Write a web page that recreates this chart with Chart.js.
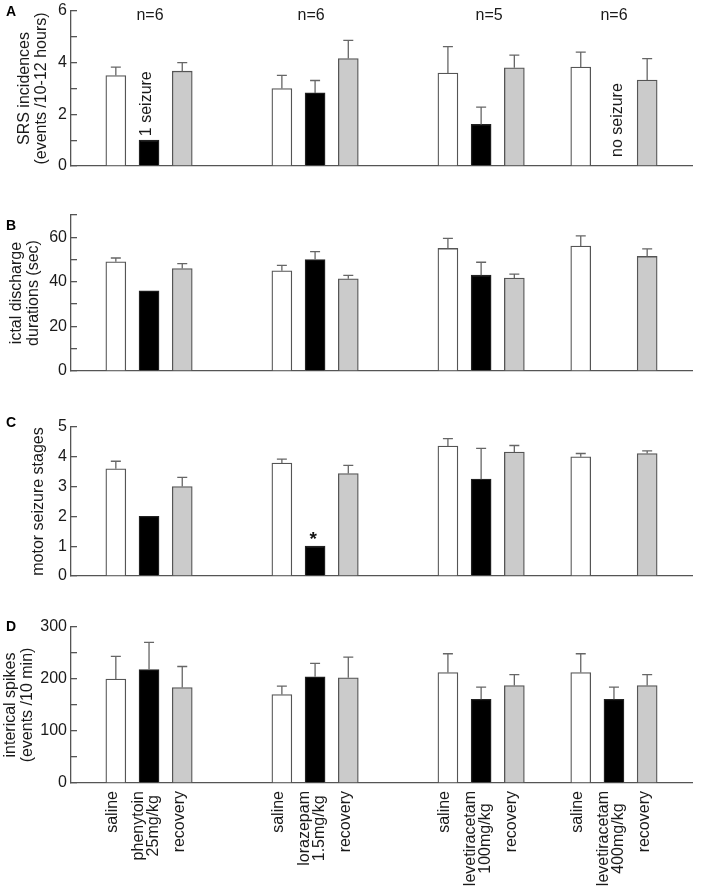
<!DOCTYPE html>
<html><head><meta charset="utf-8">
<script src="https://cdn.jsdelivr.net/npm/chart.js@4.4.1/dist/chart.umd.min.js"></script>
<style>
html,body{margin:0;padding:0;background:#fff;}
body{width:703px;height:895px;position:relative;overflow:hidden;}
canvas{position:absolute;left:0;}
</style></head><body>
<canvas id="cA" width="703" height="180" style="top:0px;width:703px;height:180px"></canvas>
<canvas id="cB" width="703" height="192" style="top:190px;width:703px;height:192px"></canvas>
<canvas id="cC" width="703" height="192" style="top:395px;width:703px;height:192px"></canvas>
<canvas id="cD" width="703" height="295" style="top:600px;width:703px;height:295px"></canvas>
<script>
// ---------- data ----------
const categories = [
  'saline', ['phenytoin', '25mg/kg'], 'recovery',
  'saline', ['lorazepam', '1.5mg/kg'], 'recovery',
  'saline', ['levetiracetam', '100mg/kg'], 'recovery',
  'saline', ['levetiracetam', '400mg/kg'], 'recovery'
];
const nLabels = ['n=6', 'n=6', 'n=5', 'n=6'];

// A: SRS incidences (events /10-12 hours)
const srsSaline      = [3.5, 3.0, 3.6, 3.83];
const srsSalineErr   = [0.33, 0.51, 1.02, 0.58];
const srsDrug        = [1.0, 2.83, 1.61, null];
const srsDrugErr     = [0, 0.48, 0.67, null];
const srsRecovery    = [3.67, 4.16, 3.8, 3.33];
const srsRecoveryErr = [0.33, 0.7, 0.49, 0.83];
const srsTickLabels  = [0, 2, 4, 6];

// B: ictal discharge durations (sec)
const ictSaline      = [49, 45, 55, 56.1];
const ictSalineErr   = [1.7, 2.4, 4.5, 4.5];
const ictDrug        = [36, 50, 43, null];
const ictDrugErr     = [0, 3.6, 5.8, null];
const ictRecovery    = [46, 41.4, 41.7, 51.4];
const ictRecoveryErr = [2.2, 1.5, 1.8, 3.4];
const ictTickLabels  = [0, 20, 40, 60];

// C: motor seizure stages
const motSaline      = [3.6, 3.79, 4.36, 4.0];
const motSalineErr   = [0.25, 0.13, 0.25, 0.11];
const motDrug        = [2.0, 1.0, 3.25, null];
const motDrugErr     = [0, 0, 1.03, null];
const motRecovery    = [3.0, 3.44, 4.16, 4.11];
const motRecoveryErr = [0.31, 0.27, 0.22, 0.09];
const motTickLabels  = [0, 1, 2, 3, 4, 5];

// D: interical spikes (events /10 min)
const spkSaline      = [200, 170, 212.5, 212.5];
const spkSalineErr   = [43.4, 16.2, 36.1, 36.1];
const spkDrug        = [218.3, 204.2, 161, 161];
const spkDrugErr     = [52.1, 25.7, 23.3, 23.3];
const spkRecovery    = [183.5, 202.2, 187.4, 187.4];
const spkRecoveryErr = [40.5, 40, 21.2, 21.2];
const spkTickLabels  = [0, 100, 200, 300];

// ---------- layout helpers ----------
const FONT = "'Liberation Sans', Arial, Helvetica, sans-serif";
Chart.defaults.font.family = FONT;
Chart.defaults.font.size = 16;
Chart.defaults.color = '#1a1a1a';

const groupStart = [0, 5, 10, 14];
const slotOf = (g, k) => groupStart[g] + k;

function barSet(vals, errs, k, fill, border) {
  const data = [], errors = [];
  vals.forEach((v, g) => {
    if (v != null) { data.push({x: slotOf(g, k), y: v}); errors.push(errs[g] || 0); }
  });
  return {data, errors, backgroundColor: fill, borderColor: border, borderWidth: 1.3,
          grouped: false, barThickness: 20};
}

const errorBarPlugin = {
  id: 'errbars',
  afterDatasetsDraw(chart) {
    const {ctx, scales: {x, y}} = chart;
    ctx.save();
    ctx.strokeStyle = '#666'; ctx.lineWidth = 1.3;
    chart.data.datasets.forEach(ds => {
      ds.data.forEach((p, i) => {
        const e = ds.errors[i];
        if (!e) return;
        const px = x.getPixelForValue(p.x);
        const y1 = y.getPixelForValue(p.y), y2 = y.getPixelForValue(p.y + e);
        ctx.beginPath();
        ctx.moveTo(px, y1); ctx.lineTo(px, y2);
        ctx.moveTo(px - 5, y2); ctx.lineTo(px + 5, y2);
        ctx.stroke();
      });
    });
    ctx.restore();
  }
};

function rotText(ctx, t, x, y, align) {
  ctx.save();
  ctx.translate(x, y); ctx.rotate(-Math.PI / 2);
  ctx.textAlign = align || 'left'; ctx.textBaseline = 'middle';
  ctx.fillText(t, 0, 0);
  ctx.restore();
}

function letter(ctx, t, yBase) {
  ctx.save();
  ctx.fillStyle = '#000';
  ctx.font = 'bold 14px ' + FONT;
  ctx.textAlign = 'left'; ctx.textBaseline = 'alphabetic';
  ctx.fillText(t, 6, yBase);
  ctx.restore();
}

function makePanel(id, cfg) {
  return new Chart(document.getElementById(id), {
    type: 'bar',
    data: {datasets: [
      barSet(cfg.saline, cfg.salineErr, 0, '#ffffff', '#555555'),
      barSet(cfg.drug, cfg.drugErr, 1, '#000000', '#222222'),
      barSet(cfg.recovery, cfg.recoveryErr, 2, '#cbcbcb', '#555555')
    ]},
    options: {
      responsive: false, animation: false, events: [],
      layout: {padding: {top: cfg.padTop, bottom: cfg.padBottom, left: 0, right: 11}},
      plugins: {legend: {display: false}, tooltip: {enabled: false}},
      scales: {
        x: {
          type: 'linear', min: -1.35, max: 17.35, offset: false, bounds: 'data',
          ticks: {display: false}, grid: {display: false, offset: false},
          border: {display: true, color: '#555', width: 1.3},
          afterFit: s => { s.height = cfg.xHeight; s.paddingLeft = 0; s.paddingRight = 0; }
        },
        y: {
          min: 0, max: cfg.max,
          ticks: {stepSize: cfg.step, padding: 10, autoSkip: false, color: '#1a1a1a',
                  font: {size: 16},
                  callback: v => cfg.labels.includes(v) ? String(v) : ''},
          grid: {display: true, drawOnChartArea: false, drawTicks: true, tickLength: -6,
                 color: '#555', lineWidth: 1.3},
          border: {display: true, color: '#555', width: 1.3},
          title: {display: true, text: cfg.title, color: '#1a1a1a',
                  font: {size: 16, lineHeight: 1.06}, padding: {top: cfg.titlePad, bottom: 0}},
          afterFit: s => { s.width = 71; s.paddingTop = 0; s.paddingBottom = 0; }
        }
      }
    },
    plugins: [errorBarPlugin, {id: 'ann', afterDraw: chart => cfg.draw(chart)}]
  });
}

// ---------- panels ----------
const nShift = [1, -4, 8, 0];

makePanel('cA', {
  saline: srsSaline, salineErr: srsSalineErr, drug: srsDrug, drugErr: srsDrugErr,
  recovery: srsRecovery, recoveryErr: srsRecoveryErr,
  max: 6, step: 1, labels: srsTickLabels,
  title: ['SRS incidences', '(events /10-12 hours)'], titlePad: 16,
  padTop: 11, padBottom: 14, xHeight: 0,
  draw(chart) {
    const {ctx, scales: {x, y}} = chart;
    letter(ctx, 'A', 16);
    ctx.save();
    ctx.fillStyle = '#1a1a1a'; ctx.font = '16px ' + FONT;
    ctx.textAlign = 'center'; ctx.textBaseline = 'alphabetic';
    nLabels.forEach((t, g) => ctx.fillText(t, x.getPixelForValue(slotOf(g, 1)) + nShift[g], 20));
    rotText(ctx, '1 seizure', x.getPixelForValue(slotOf(0, 1)) - 2, y.getPixelForValue(srsDrug[0]) - 4);
    rotText(ctx, 'no seizure', x.getPixelForValue(slotOf(3, 1)) + 4, y.getPixelForValue(0) - 9);
    ctx.restore();
  }
});

makePanel('cB', {
  saline: ictSaline, salineErr: ictSalineErr, drug: ictDrug, drugErr: ictDrugErr,
  recovery: ictRecovery, recoveryErr: ictRecoveryErr,
  max: 70, step: 10, labels: ictTickLabels,
  title: ['ictal discharge', 'durations (sec)'], titlePad: 8,
  padTop: 25, padBottom: 11, xHeight: 0,
  draw(chart) { letter(chart.ctx, 'B', 40); }
});

makePanel('cC', {
  saline: motSaline, salineErr: motSalineErr, drug: motDrug, drugErr: motDrugErr,
  recovery: motRecovery, recoveryErr: motRecoveryErr,
  max: 5, step: 1, labels: motTickLabels,
  title: 'motor seizure stages', titlePad: 30.5,
  padTop: 32, padBottom: 11, xHeight: 0,
  draw(chart) {
    const {ctx, scales: {x, y}} = chart;
    letter(ctx, 'C', 32);
    ctx.save();
    ctx.fillStyle = '#111'; ctx.font = 'bold 19px ' + FONT;
    ctx.textAlign = 'center'; ctx.textBaseline = 'alphabetic';
    ctx.fillText('*', x.getPixelForValue(slotOf(1, 1)) - 2, y.getPixelForValue(motDrug[1]) - 1);
    ctx.restore();
  }
});

makePanel('cD', {
  saline: spkSaline, salineErr: spkSalineErr, drug: spkDrug, drugErr: spkDrugErr,
  recovery: spkRecovery, recoveryErr: spkRecoveryErr,
  max: 300, step: 50, labels: spkTickLabels,
  title: ['interical spikes', '(events /10 min)'], titlePad: 2.5,
  padTop: 27, padBottom: 0, xHeight: 112,
  draw(chart) {
    const {ctx, scales: {x}} = chart;
    letter(ctx, 'D', 30.5);
    ctx.save();
    ctx.fillStyle = '#1a1a1a'; ctx.font = '16px ' + FONT;
    categories.forEach((lab, i) => {
      const g = Math.floor(i / 3), k = i % 3;
      const lines = Array.isArray(lab) ? lab : [lab];
      const cx = x.getPixelForValue(slotOf(g, k)) - 3;
      const w = Math.max(...lines.map(l => ctx.measureText(l).width));
      const cy = chart.chartArea.bottom + 8 + w / 2;
      lines.forEach((l, j) => rotText(ctx, l, cx + (j - (lines.length - 1) / 2) * 15.5, cy, 'center'));
    });
    ctx.restore();
  }
});
</script>
</body></html>
